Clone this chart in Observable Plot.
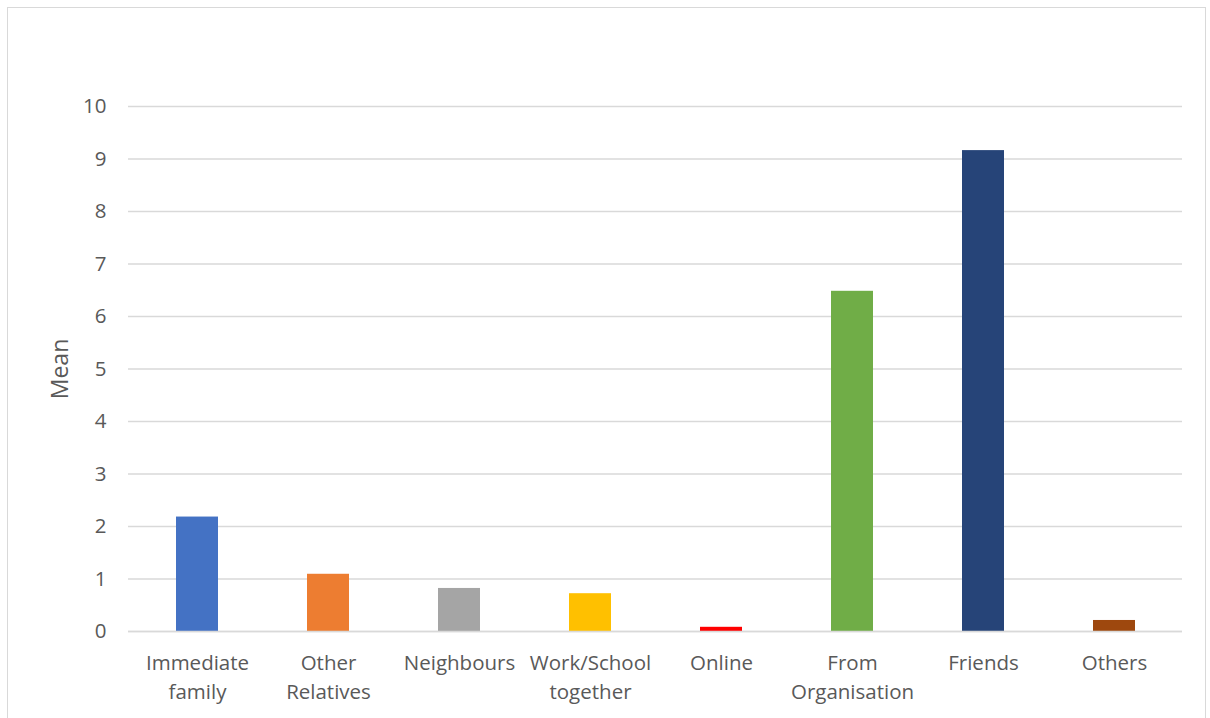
<!DOCTYPE html>
<html>
<head>
<meta charset="utf-8">
<script src="https://cdn.jsdelivr.net/npm/d3@7"></script>
<script src="https://cdn.jsdelivr.net/npm/@observablehq/plot@0.6"></script>
<style>
  html, body { margin: 0; padding: 0; background: #fff; }
  #wrap { position: relative; width: 1210px; height: 718px; overflow: hidden; }
  #frame { position: absolute; left: 7px; top: 7px; width: 1199px; height: 720px; border: 1px solid #d9d9d9; box-sizing: border-box; pointer-events: none; }
</style>
</head>
<body>
<div id="wrap"><div id="frame"></div></div>
<script>
const categories = ["Immediate\nfamily", "Other\nRelatives", "Neighbours", "Work/School\ntogether", "Online", "From\nOrganisation", "Friends", "Others"];
const means = [2.18, 1.09, 0.82, 0.72, 0.08, 6.48, 9.16, 0.21];
const colors = ["#4472c4", "#ed7d31", "#a5a5a5", "#ffc000", "#ff0000", "#70ad47", "#264478", "#9e480e"];
const yTicks = [0, 1, 2, 3, 4, 5, 6, 7, 8, 9, 10];

const data = categories.map((c, i) => ({category: c, mean: means[i], color: colors[i]}));

const chart = Plot.plot({
  width: 1210,
  height: 718,
  marginLeft: 128,
  marginRight: 28,
  marginTop: 106,
  marginBottom: 87,
  style: {fontFamily: "'Open Sans', sans-serif", fontSize: "20px", color: "#595959", background: "transparent"},
  x: {domain: categories, paddingInner: 0.68, paddingOuter: 0.34, label: null},
  y: {domain: [0, 10], ticks: yTicks, label: null},
  marks: [
    Plot.gridY(yTicks, {stroke: "#d9d9d9", strokeOpacity: 1, strokeWidth: 1.5}),
    Plot.barY(data, {x: "category", y: "mean", fill: "color"}),
    Plot.ruleY([0], {stroke: "#d9d9d9", strokeWidth: 1.5}),
    Plot.axisY(yTicks, {tickSize: 0, tickPadding: 22, tickFormat: d3.format("d"), fill: "#595959", fontSize: 20.5, label: null}),
    Plot.axisX({tickSize: 0, tickPadding: 18, fill: "#595959", fontSize: 20.5, lineHeight: 1.42, label: null}),
    Plot.text(["Mean"], {frameAnchor: "left", textAnchor: "middle", dx: -68, rotate: -90, fontSize: 23, fill: "#595959"})
  ]
});
chart.style.position = "absolute";
chart.style.left = "0";
chart.style.top = "0";
document.getElementById("wrap").appendChild(chart);
</script>
</body>
</html>
